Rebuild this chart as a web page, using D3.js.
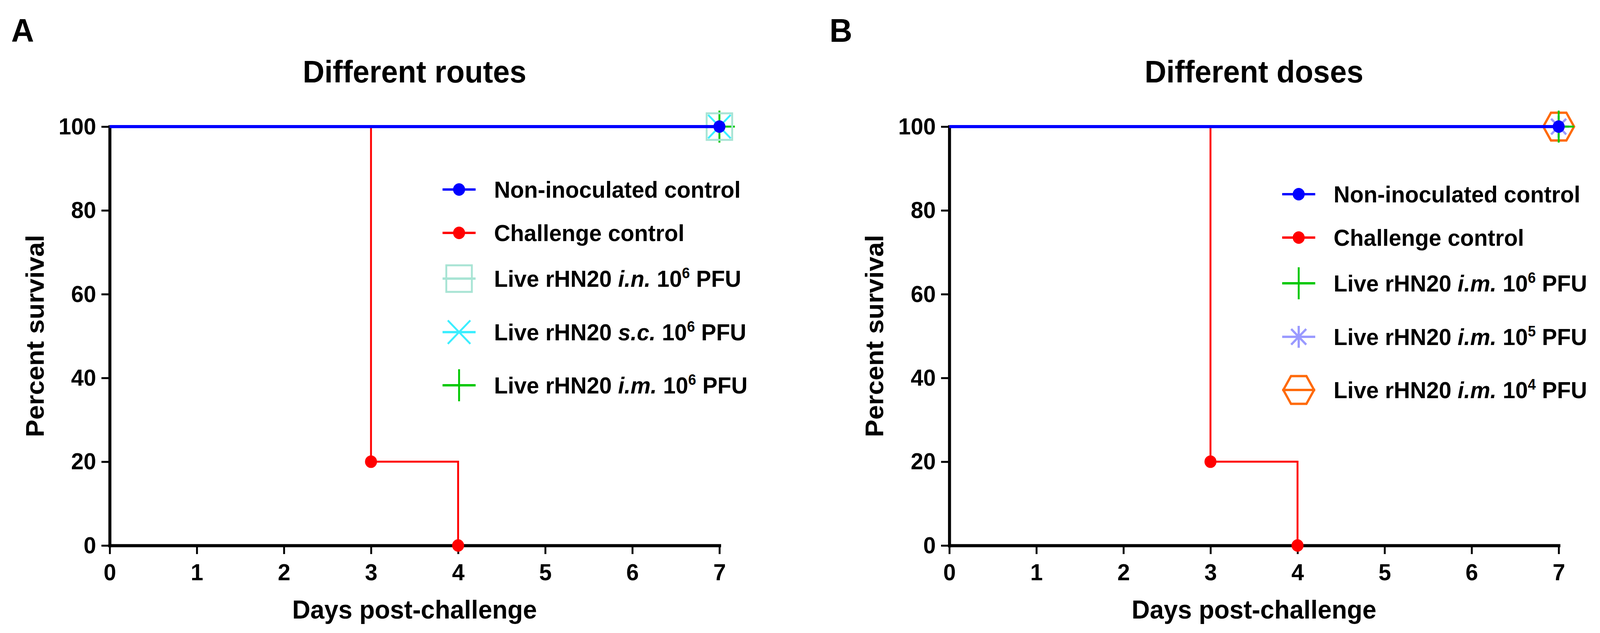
<!DOCTYPE html>
<html>
<head>
<meta charset="utf-8">
<script src="https://cdn.jsdelivr.net/npm/d3@7"></script>
<style>
  html, body { margin: 0; padding: 0; background: #fff; overflow: hidden; width: 100%; height: 100%; }
  svg { display: block; width: 100vw; height: 100vh; }
  text { font-family: "Liberation Sans", Arial, Helvetica, sans-serif; font-weight: bold; fill: #000; }
</style>
</head>
<body>
<svg id="chart" viewBox="0 0 4259 1620" preserveAspectRatio="none"></svg>
<script>
// ---------------- DATA ----------------
const panelLetters = ["A", "B"];
const panelTitles = ["Different routes", "Different doses"];
const xAxisTitle = "Days post-challenge";
const yAxisTitle = "Percent survival";
const xTicks = [0, 1, 2, 3, 4, 5, 6, 7];
const yTicks = [0, 20, 40, 60, 80, 100];

// survival curves (day, percent)
const nonInoculatedDays = [0, 7];
const nonInoculatedSurvival = [100, 100];
const challengeDays = [0, 3, 4];
const challengeSurvival = [100, 20, 0];
const vaccinatedDays = [0, 7];
const vaccinatedSurvival = [100, 100];

// panel A series (legend order)
const routesLabels = [
  [{t: "Non-inoculated control"}],
  [{t: "Challenge control"}],
  [{t: "Live rHN20 "}, {t: "i.n.", i: true}, {t: " 10"}, {t: "6", sup: true}, {t: " PFU"}],
  [{t: "Live rHN20 "}, {t: "s.c.", i: true}, {t: " 10"}, {t: "6", sup: true}, {t: " PFU"}],
  [{t: "Live rHN20 "}, {t: "i.m.", i: true}, {t: " 10"}, {t: "6", sup: true}, {t: " PFU"}]
];
const routesColors = ["#0000ff", "#ff0000", "#a8e4d4", "#3ceeff", "#00c800"];
const routesSymbols = ["dot", "dot", "square", "x", "plus"];
const routesDays = [nonInoculatedDays, challengeDays, vaccinatedDays, vaccinatedDays, vaccinatedDays];
const routesSurvival = [nonInoculatedSurvival, challengeSurvival, vaccinatedSurvival, vaccinatedSurvival, vaccinatedSurvival];

// panel B series (legend order)
const dosesLabels = [
  [{t: "Non-inoculated control"}],
  [{t: "Challenge control"}],
  [{t: "Live rHN20 "}, {t: "i.m.", i: true}, {t: " 10"}, {t: "6", sup: true}, {t: " PFU"}],
  [{t: "Live rHN20 "}, {t: "i.m.", i: true}, {t: " 10"}, {t: "5", sup: true}, {t: " PFU"}],
  [{t: "Live rHN20 "}, {t: "i.m.", i: true}, {t: " 10"}, {t: "4", sup: true}, {t: " PFU"}]
];
const dosesColors = ["#0000ff", "#ff0000", "#00c800", "#9a9aff", "#ff6a0a"];
const dosesSymbols = ["dot", "dot", "plus", "asterisk", "hexagon"];
const dosesDays = [nonInoculatedDays, challengeDays, vaccinatedDays, vaccinatedDays, vaccinatedDays];
const dosesSurvival = [nonInoculatedSurvival, challengeSurvival, vaccinatedSurvival, vaccinatedSurvival, vaccinatedSurvival];

// ---------------- LAYOUT ----------------
const svg = d3.select("#chart");
const panels = [
  {letter: panelLetters[0], title: panelTitles[0], labels: routesLabels, colors: routesColors, symbols: routesSymbols,
   days: routesDays, surv: routesSurvival, x0: 292, x1: 1915, letterX: 30, legendX: 1222, legendY: 485},
  {letter: panelLetters[1], title: panelTitles[1], labels: dosesLabels, colors: dosesColors, symbols: dosesSymbols,
   days: dosesDays, surv: dosesSurvival, x0: 2527, x1: 4149, letterX: 2208, legendX: 3457, legendY: 497}
];
const yTop = 324, yBottom = 1396;
const legendOffsets = [0, 111, 228, 365, 501];

function drawSymbol(g, type, color, cx, cy) {
  const s = g.append("g").attr("transform", `translate(${cx},${cy})`);
  if (type === "dot") {
    s.append("circle").attr("r", 16).attr("fill", color);
  } else if (type === "square") {
    s.append("rect").attr("x", -34).attr("y", -34).attr("width", 68).attr("height", 68)
      .attr("fill", "none").attr("stroke", color).attr("stroke-width", 5);
  } else if (type === "x") {
    const h = 30;
    s.append("path").attr("d", `M${-h},${-h}L${h},${h}M${-h},${h}L${h},${-h}`)
      .attr("stroke", color).attr("stroke-width", 5).attr("fill", "none");
  } else if (type === "plus") {
    const h = 41;
    s.append("path").attr("d", `M0,${-h}L0,${h}M${-h},0L${h},0`)
      .attr("stroke", color).attr("stroke-width", 5).attr("fill", "none");
  } else if (type === "asterisk") {
    const h = 28, d = 20;
    s.append("path").attr("d", `M0,${-h}L0,${h}M${-h},0L${h},0M${-d},${-d}L${d},${d}M${-d},${d}L${d},${-d}`)
      .attr("stroke", color).attr("stroke-width", 6).attr("fill", "none");
  } else if (type === "hexagon") {
    const R = 41;
    const pts = d3.range(6).map(k => {
      const a = Math.PI / 3 * k;
      return [R * Math.cos(a), R * Math.sin(a)];
    });
    s.append("path").attr("d", "M" + pts.map(p => p.join(",")).join("L") + "Z")
      .attr("fill", "none").attr("stroke", color).attr("stroke-width", 6).attr("stroke-linejoin", "miter");
  }
}

panels.forEach(p => {
  const x = d3.scaleLinear().domain([0, 7]).range([p.x0, p.x1]);
  const y = d3.scaleLinear().domain([0, 100]).range([yBottom, yTop]);
  const g = svg.append("g");

  // panel letter
  g.append("text").attr("x", p.letterX).attr("y", 107).attr("font-size", 84).text(p.letter);

  // title
  g.append("text").attr("x", (p.x0 + p.x1) / 2).attr("y", 211).attr("text-anchor", "middle")
    .attr("font-size", 80).text(p.title);

  // axes
  const xAxis = g.append("g").attr("transform", `translate(0,${yBottom})`)
    .call(d3.axisBottom(x).tickValues(xTicks).tickFormat(d3.format("d")).tickSize(22).tickSizeOuter(0).tickPadding(24));
  const yAxis = g.append("g").attr("transform", `translate(${p.x0},0)`)
    .call(d3.axisLeft(y).tickValues(yTicks).tickFormat(d3.format("d")).tickSize(22).tickSizeOuter(0).tickPadding(14));
  [xAxis, yAxis].forEach(a => {
    a.select(".domain").attr("stroke", "#000").attr("stroke-width", 8).attr("stroke-linecap", "square");
    a.selectAll(".tick line").attr("stroke", "#000").attr("stroke-width", 5);
    a.selectAll(".tick text").attr("font-size", 60).attr("font-family", null).attr("fill", "#000");
    a.attr("font-family", null).attr("font-size", null);
  });

  // axis titles
  g.append("text").attr("x", (p.x0 + p.x1) / 2).attr("y", 1583).attr("text-anchor", "middle")
    .attr("font-size", 67).text(xAxisTitle);
  g.append("text").attr("transform", `translate(${p.x0 - 176},${(yTop + yBottom) / 2}) rotate(-90)`)
    .attr("text-anchor", "middle").attr("font-size", 67).text(yAxisTitle);

  // series: draw last legend item first so the first is on top
  const line = d3.line().x(d => x(d[0])).y(d => y(d[1])).curve(d3.curveStepAfter);
  const order = d3.range(p.labels.length).reverse();
  order.forEach(i => {
    const pts = p.days[i].map((d, k) => [d, p.surv[i][k]]);
    g.append("path").attr("d", line(pts)).attr("fill", "none").attr("stroke", p.colors[i])
      .attr("stroke-width", i === 0 ? 8 : 5);
    pts.slice(1).forEach(pt => drawSymbol(g, p.symbols[i], p.colors[i], x(pt[0]), y(pt[1])));
  });

  // legend
  p.labels.forEach((lab, i) => {
    const cy = p.legendY + legendOffsets[i];
    g.append("line").attr("x1", p.legendX - 44).attr("x2", p.legendX + 44).attr("y1", cy).attr("y2", cy)
      .attr("stroke", p.colors[i]).attr("stroke-width", 6);
    drawSymbol(g, p.symbols[i], p.colors[i], p.legendX, cy);
    const t = g.append("text").attr("x", p.legendX + 93).attr("y", cy + 21).attr("font-size", 60);
    lab.forEach((part, k) => {
      const ts = t.append("tspan").text(part.t);
      if (part.i) ts.attr("font-style", "italic");
      if (part.sup) ts.attr("font-size", 38).attr("dy", -22);
      else if (k > 0 && lab[k - 1].sup) ts.attr("dy", 22);
    });
  });
});
</script>
</body>
</html>
